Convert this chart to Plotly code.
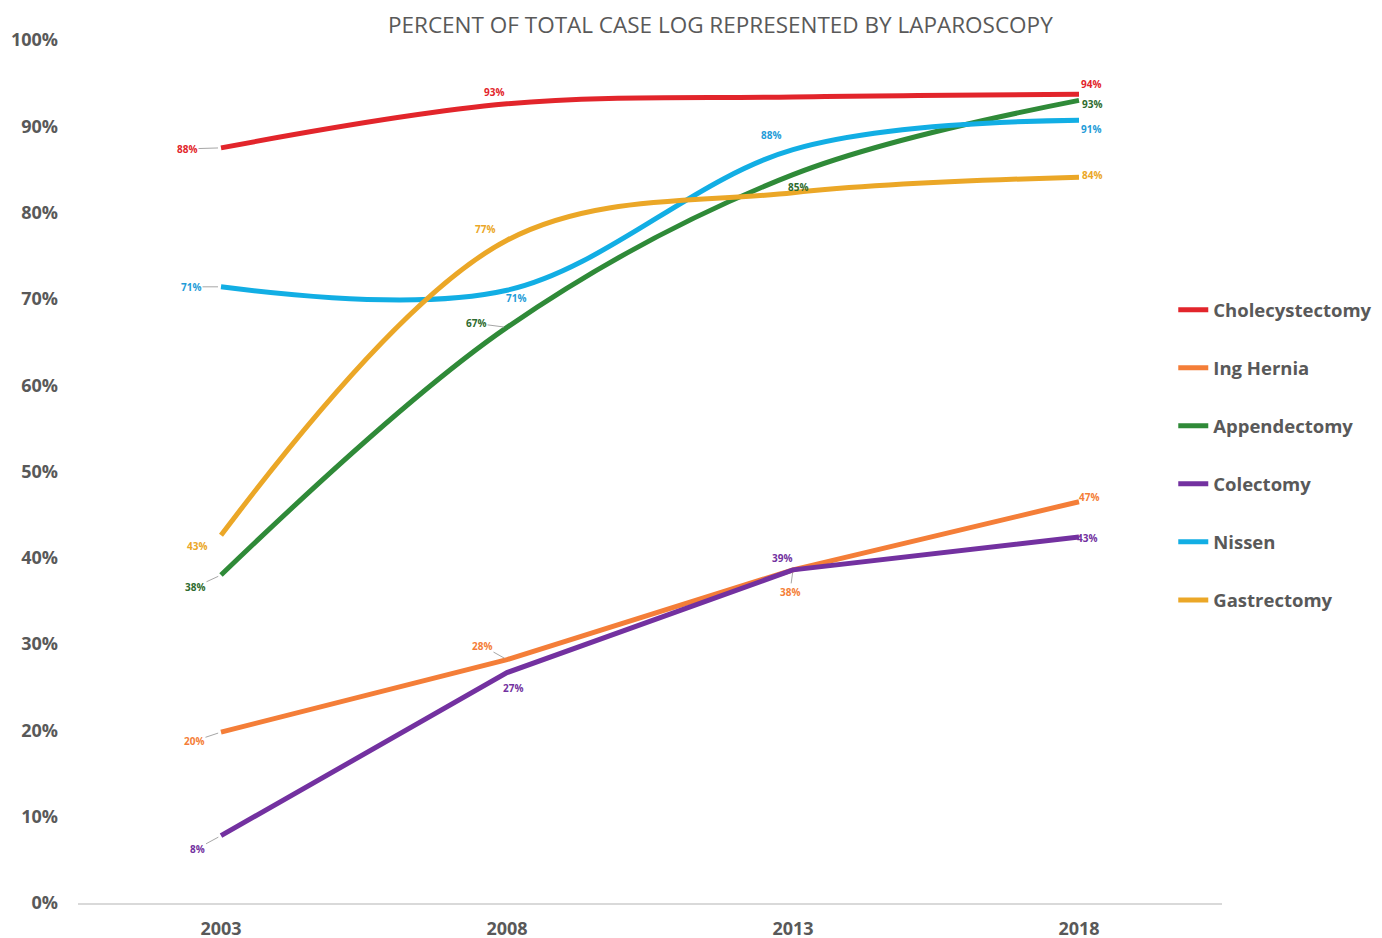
import plotly.graph_objects as go

years = ["2003", "2008", "2013", "2018"]
series_names = ["Cholecystectomy", "Ing Hernia", "Appendectomy", "Colectomy", "Nissen", "Gastrectomy"]
cholecystectomy = [87.5, 92.6, 93.4, 93.7]
ing_hernia = [19.8, 28.2, 38.6, 46.5]
appendectomy = [38.0, 66.7, 84.4, 93.0]
colectomy = [7.8, 26.7, 38.6, 42.4]
nissen = [71.4, 71.0, 87.3, 90.7]
gastrectomy = [42.6, 76.8, 82.3, 84.1]
# data labels (None = not shown)
chole_labels = ["88%", "93%", None, "94%"]
hernia_labels = ["20%", "28%", "38%", "47%"]
append_labels = ["38%", "67%", "85%", "93%"]
colect_labels = ["8%", "27%", "39%", "43%"]
nissen_labels = ["71%", "71%", "88%", "91%"]
gastr_labels = ["43%", "77%", None, "84%"]

values = [cholecystectomy, ing_hernia, appendectomy, colectomy, nissen, gastrectomy]
labels = [chole_labels, hernia_labels, append_labels, colect_labels, nissen_labels, gastr_labels]
colors = ["#E2252B", "#F47E38", "#2F8A38", "#7331A0", "#12AEE4", "#EBA727"]
label_colors = ["#E2252B", "#F47E38", "#2E6B2E", "#7331A0", "#1F9CD8", "#EBA727"]
shapes = ["spline", "linear", "spline", "linear", "spline", "spline"]

# label offsets in pixels (dx, dy downwards), and whether a leader line is drawn
offsets = [
    [(-34, 1, True), (-13, -12, False), None, (12, -10, False)],
    [(-27, 9, True), (-25, -14, True), (-3, 22, True), (10, -5, False)],
    [(-26, 12, True), (-31, -4, True), (5, 12, False), (13, 4, False)],
    [(-24, 13, True), (6, 15, False), (-11, -12, False), (8, 1, False)],
    [(-30, 0, True), (9, 8, False), (-22, -15, False), (12, 9, False)],
    [(-24, 11, False), (-22, -11, False), None, (13, -2, False)],
]

fig = go.Figure()
for i, name in enumerate(series_names):
    fig.add_trace(go.Scatter(
        x=years, y=values[i], name=name, mode="lines",
        line=dict(color=colors[i], width=5, shape=shapes[i], smoothing=1.0),
        legendgroup=name,
    ))

annotations = []
for i in range(len(series_names)):
    for j in range(len(years)):
        txt = labels[i][j]
        off = offsets[i][j]
        if txt is None or off is None:
            continue
        dx, dy, leader = off
        font = dict(family="Open Sans", size=10, color=label_colors[i], weight="bold")
        if leader:
            annotations.append(dict(
                x=j, y=values[i][j], xref="x", yref="y", text=txt,
                showarrow=True, ax=dx, ay=dy, arrowhead=0, arrowwidth=1,
                arrowcolor="#A6A6A6", standoff=3, font=font,
            ))
        else:
            annotations.append(dict(
                x=j, y=values[i][j], xref="x", yref="y", text=txt,
                showarrow=False, xshift=dx, yshift=-dy, font=font,
            ))

annotations.append(dict(
    text="PERCENT OF TOTAL CASE LOG REPRESENTED BY LAPAROSCOPY",
    xref="paper", yref="paper", x=0.562, y=1.0, yshift=16, yanchor="middle",
    xanchor="center", showarrow=False,
    font=dict(family="Open Sans", size=22.5, color="#595959"),
))

fig.update_layout(
    width=1382, height=938,
    margin=dict(l=70, r=168, t=32, b=43, autoexpand=False),
    paper_bgcolor="white", plot_bgcolor="white",
    annotations=annotations,
    showlegend=True,
    legend=dict(
        x=0.9574, y=0.709, xanchor="left", yanchor="top",
        font=dict(family="Open Sans", size=18.5, color="#595959", weight="bold"),
        tracegroupgap=31, itemwidth=30, bgcolor="rgba(0,0,0,0)",
    ),
    xaxis=dict(
        type="category", range=[-0.5, 3.5], showgrid=False, automargin=False,
        showline=True, linecolor="#D9D9D9", linewidth=1.5, ticks="",
        tickfont=dict(family="Open Sans", size=18, color="#595959", weight="bold"),
        ticklabelstandoff=9, zeroline=False,
    ),
    yaxis=dict(
        range=[0, 100], tickvals=list(range(0, 101, 10)), automargin=False,
        ticktext=[f"{v}%" for v in range(0, 101, 10)],
        showgrid=False, zeroline=False, showline=False, ticks="",
        tickfont=dict(family="Open Sans", size=18, color="#595959", weight="bold"),
        ticklabelstandoff=19,
    ),
)

fig.write_html("out.html")
